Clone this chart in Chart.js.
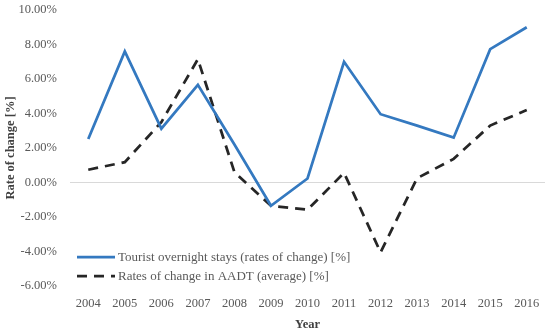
<!DOCTYPE html>
<html>
<head>
<meta charset="utf-8">
<script src="https://cdn.jsdelivr.net/npm/chart.js@4/dist/chart.umd.min.js"></script>
<style>
html,body{margin:0;padding:0;background:#fff;}
#wrap{width:550px;height:332px;position:relative;}
</style>
</head>
<body>
<div id="wrap"><canvas id="c" width="550" height="332"></canvas></div>
<script>
const years = ['2004','2005','2006','2007','2008','2009','2010','2011','2012','2013','2014','2015','2016'];
const touristStays = [2.52, 7.6, 3.12, 5.66, 2.2, -1.35, 0.23, 7.0, 3.96, 3.3, 2.6, 7.73, 9.0];
const aadtChange = [0.74, 1.18, 3.5, 7.15, 0.6, -1.35, -1.58, 0.56, -4.05, 0.25, 1.37, 3.3, 4.2];
const seriesNames = ['Tourist overnight stays (rates of change) [%]', 'Rates of change in AADT (average) [%]'];
const yMin = -6, yMax = 10, yStep = 2;

const FONT = "'Liberation Serif', 'Times New Roman', serif";

const legendPlugin = {
  id: 'innerLegend',
  afterDraw(chart) {
    const ctx = chart.ctx;
    const a = chart.chartArea;
    const x0 = a.left + 7, x1 = a.left + 45;
    const rows = [a.bottom - 29, a.bottom - 10];
    ctx.save();
    chart.data.datasets.forEach((ds, i) => {
      const y = rows[i];
      ctx.beginPath();
      ctx.strokeStyle = ds.borderColor;
      ctx.lineWidth = ds.borderWidth;
      ctx.setLineDash(ds.borderDash || []);
      ctx.moveTo(x0, y);
      ctx.lineTo(x1, y);
      ctx.stroke();
      ctx.setLineDash([]);
      ctx.fillStyle = '#595959';
      ctx.font = '13px ' + FONT;
      ctx.textBaseline = 'middle';
      ctx.textAlign = 'left';
      ctx.fillText(ds.label, x1 + 3, y + 1);
    });
    ctx.restore();
  }
};

new Chart(document.getElementById('c'), {
  type: 'line',
  data: {
    labels: years,
    datasets: [
      {
        label: seriesNames[0],
        data: touristStays,
        borderColor: '#3479c0',
        borderWidth: 2.75,
        pointRadius: 0,
        tension: 0,
        fill: false
      },
      {
        label: seriesNames[1],
        data: aadtChange,
        borderColor: '#262626',
        borderWidth: 2.75,
        borderDash: [10, 7],
        pointRadius: 0,
        tension: 0,
        fill: false
      }
    ]
  },
  options: {
    responsive: false,
    animation: false,
    devicePixelRatio: 1,
    layout: { autoPadding: false, padding: { left: 0, right: 5, top: 10, bottom: 0 } },
    plugins: {
      legend: { display: false },
      tooltip: { enabled: false }
    },
    scales: {
      x: {
        offset: true,
        grid: { display: false, drawTicks: false },
        border: { display: false },
        ticks: { color: '#595959', font: { family: FONT, size: 12.5 }, padding: 10, maxRotation: 0, autoSkip: false },
        title: { display: true, text: 'Year', color: '#404040', font: { family: FONT, size: 12.5, weight: 'bold' }, padding: { top: 3, bottom: 0 } },
        afterFit(s) { s.height = 46; s.paddingLeft = 0; s.paddingRight = 0; }
      },
      y: {
        min: yMin,
        max: yMax,
        grid: {
          drawTicks: false,
          color: c => (c.tick && c.tick.value === 0) ? '#d9d9d9' : 'rgba(0,0,0,0)',
          lineWidth: 1
        },
        border: { display: false },
        ticks: {
          stepSize: yStep,
          color: '#595959',
          font: { family: FONT, size: 12.5 },
          padding: 13,
          callback: v => v.toFixed(2) + '%'
        },
        title: { display: true, text: 'Rate of change [%]', color: '#404040', font: { family: FONT, size: 12.5, weight: 'bold' }, padding: { top: 3, bottom: 0 } },
        afterFit(s) { s.width = 70; s.paddingTop = 0; s.paddingBottom = 0; }
      }
    }
  },
  plugins: [legendPlugin]
});
</script>
</body>
</html>
